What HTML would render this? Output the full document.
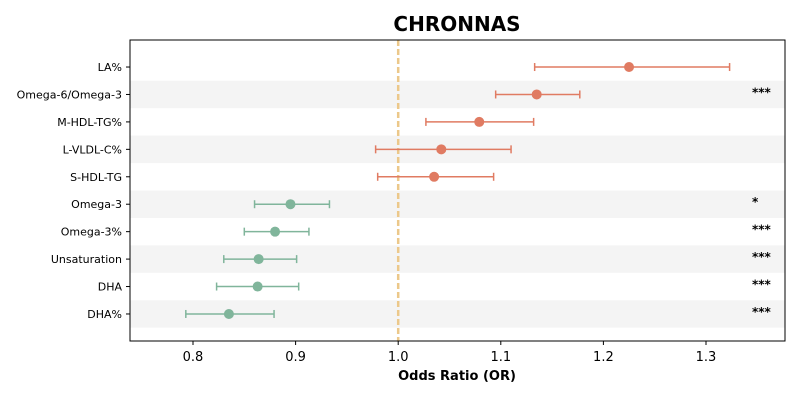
<!DOCTYPE html>
<html><head><meta charset="utf-8"><style>
body{margin:0;background:#fff;font-family:"DejaVu Sans","Liberation Sans",sans-serif;}
svg text{font-family:"DejaVu Sans","Liberation Sans",sans-serif;}
</style></head><body>
<svg id="chart" width="800" height="400" xmlns="http://www.w3.org/2000/svg">
<text x="457" y="31" text-anchor="middle" font-size="20" font-weight="bold" fill="#000">CHRONNAS</text>
<g id="bands"></g><g id="marks"></g><g id="axes"></g>
<text x="457" y="380" text-anchor="middle" font-size="13" font-weight="bold">Odds Ratio (OR)</text>
</svg>
<script>
const labels=["LA%","Omega-6/Omega-3","M-HDL-TG%","L-VLDL-C%","S-HDL-TG","Omega-3","Omega-3%","Unsaturation","DHA","DHA%"];
const orValues=[1.225,1.135,1.079,1.042,1.035,0.895,0.880,0.864,0.863,0.835];
const lowerCI=[1.133,1.095,1.027,0.978,0.980,0.860,0.850,0.830,0.823,0.793];
const upperCI=[1.323,1.177,1.132,1.110,1.093,0.933,0.913,0.901,0.903,0.879];
const stars=["","***","","","","*","***","***","***","***"];
const xTicks=[0.8,0.9,1.0,1.1,1.2,1.3];
const NS="http://www.w3.org/2000/svg";
const L=130,R=785,T=40,B=341,xmin=0.7386,xmax=1.3770;
const x=v=>L+(v-xmin)/(xmax-xmin)*(R-L);
const step=(B-T)/10.97;
const y=i=>T+step*0.985+i*step;
function mk(tag,attrs,parent){const e=document.createElementNS(NS,tag);for(const k in attrs)e.setAttribute(k,attrs[k]);parent.appendChild(e);return e;}
const bands=document.getElementById('bands'),marks=document.getElementById('marks'),axes=document.getElementById('axes');
labels.forEach((lab,i)=>{
  if(i%2===1){const b=mk('rect',{x:L,y:y(i)-step/2,width:R-L,height:step,fill:'#f4f4f4'},bands);
  
  }
  const t=mk('text',{x:L-8,y:y(i)+4,'text-anchor':'end','font-size':11},axes);t.textContent=lab;
  
  
  mk('line',{x1:L-4,x2:L,y1:y(i),y2:y(i),stroke:'#000'},axes);
});
const ref=mk('line',{x1:x(1),x2:x(1),y1:T,y2:B,stroke:'#ecc88a','stroke-width':2.5,'stroke-dasharray':'6,3'},marks);


labels.forEach((lab,i)=>{
  const c=orValues[i]>1?'#e07b62':'#80b59b';
  const g=mk('g',{},marks);
  
  
  const yy=y(i);
  mk('line',{x1:x(lowerCI[i]),x2:x(upperCI[i]),y1:yy,y2:yy,stroke:c,'stroke-width':1.5},g);
  mk('line',{x1:x(lowerCI[i]),x2:x(lowerCI[i]),y1:yy-4,y2:yy+4,stroke:c,'stroke-width':1.5},g);
  mk('line',{x1:x(upperCI[i]),x2:x(upperCI[i]),y1:yy-4,y2:yy+4,stroke:c,'stroke-width':1.5},g);
  mk('circle',{cx:x(orValues[i]),cy:yy,r:5,fill:c},g);
  if(stars[i]){const s=mk('text',{x:752,y:yy+2,'font-size':12,'font-weight':'bold'},marks);s.textContent=stars[i];
  
  }
});
xTicks.forEach(v=>{
  mk('line',{x1:x(v),x2:x(v),y1:B,y2:B+4,stroke:'#000'},axes);
  const t=mk('text',{x:x(v),y:B+20,'text-anchor':'middle','font-size':13},axes);t.textContent=v.toFixed(1);
  
  
});
const frame=mk('rect',{x:L,y:T,width:R-L,height:B-T,fill:'none',stroke:'#000','stroke-width':1},axes);


</script>
</body></html>
